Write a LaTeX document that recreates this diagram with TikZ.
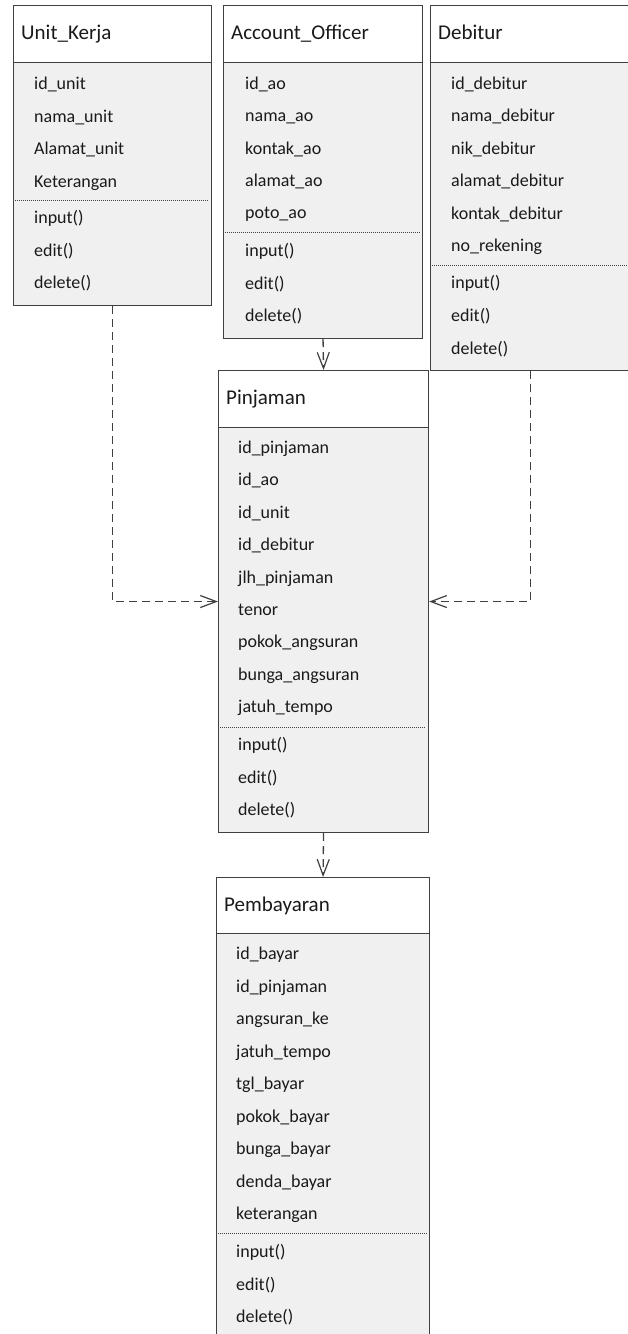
\documentclass[tikz,border=0pt]{standalone}
\usepackage{fontspec}
\setmainfont{Carlito}
\usepackage{xcolor}
\usetikzlibrary{arrows.meta,positioning}

\begin{document}
\begin{tikzpicture}[x=1pt,y=-1pt,
  kelas/.style={draw=garis,fill=isi,line width=1.1pt,anchor=north west,inner sep=0pt},
  kepala/.style={kelas,fill=white,minimum height=57},
  judul/.style={anchor=west,inner sep=0pt,text=teks,text height=15pt,text depth=4pt,font=\fontsize{21}{24}\selectfont},
  atr/.style={anchor=west,inner sep=0pt,text=teks,text height=13pt,text depth=3pt,font=\fontsize{18}{20}\selectfont},
  pisah/.style={draw=garis,line width=0.7pt,dash pattern=on 1pt off 1pt},
  relasi/.style={draw=garis,line width=1.3pt,dash pattern=on 8pt off 5pt,
    -{Straight Barb[length=16pt,width=12pt,line width=1.2pt]}}]
\definecolor{garis}{HTML}{404040}
\definecolor{isi}{HTML}{F0F0F0}
\definecolor{teks}{HTML}{1A1A1A}
\useasboundingbox[fill=white] (0,0) rectangle (627,1334);

% Unit_Kerja
\node (unit) [kelas,minimum width=198,minimum height=300] at (13,5) {};
\node (unitH) [kepala,minimum width=198] at (13,5) {};
\node (unitT) [judul,right=8pt of unitH.west] {Unit\_Kerja};
\foreach \a [count=\i from 0] in {id\_unit,nama\_unit,Alamat\_unit,Keterangan}
  \node (unitA\i) [atr] at (34,84.5+32.5*\i) {\a};
\draw[pisah] (15,200) -- (209,200);
\foreach \m [count=\i from 0] in {input(),edit(),delete()}
  \node (unitM\i) [atr] at (34,218.5+32.5*\i) {\m};

% Account_Officer
\node (ao) [kelas,minimum width=199,minimum height=333] at (223,5) {};
\node (aoH) [kepala,minimum width=199] at (223,5) {};
\node (aoT) [judul,right=8pt of aoH.west] {Account\_Officer};
\foreach \a [count=\i from 0] in {id\_ao,nama\_ao,kontak\_ao,alamat\_ao,poto\_ao}
  \node (aoA\i) [atr] at (245,84.5+32.3*\i) {\a};
\draw[pisah] (225,232) -- (420,232);
\foreach \m [count=\i from 0] in {input(),edit(),delete()}
  \node (aoM\i) [atr] at (245,251.5+32.5*\i) {\m};

% Debitur
\node (debitur) [kelas,minimum width=200,minimum height=365] at (430,5) {};
\node (debiturH) [kepala,minimum width=200] at (430,5) {};
\node (debiturT) [judul,right=8pt of debiturH.west] {Debitur};
\foreach \a [count=\i from 0] in {id\_debitur,nama\_debitur,nik\_debitur,alamat\_debitur,kontak\_debitur,no\_rekening}
  \node (debiturA\i) [atr] at (451,84.5+32.4*\i) {\a};
\draw[pisah] (432,265) -- (627,265);
\foreach \m [count=\i from 0] in {input(),edit(),delete()}
  \node (debiturM\i) [atr] at (451,283.5+32.8*\i) {\m};

% Pinjaman
\node (pinjaman) [kelas,minimum width=210,minimum height=462] at (218,370) {};
\node (pinjamanH) [kepala,minimum width=210] at (218,370) {};
\node (pinjamanT) [judul,right=8pt of pinjamanH.west] {Pinjaman};
\foreach \a [count=\i from 0] in {id\_pinjaman,id\_ao,id\_unit,id\_debitur,jlh\_pinjaman,tenor,pokok\_angsuran,bunga\_angsuran,jatuh\_tempo}
  \node (pinjamanA\i) [atr] at (238,448.5+32.4*\i) {\a};
\draw[pisah] (220,727) -- (426,727);
\foreach \m [count=\i from 0] in {input(),edit(),delete()}
  \node (pinjamanM\i) [atr] at (238,745.5+32.5*\i) {\m};

% Pembayaran
\node (bayar) [kelas,minimum width=213,minimum height=470] at (216,877) {};
\node (bayarH) [kepala,minimum width=213,minimum height=56] at (216,877) {};
\node (bayarT) [judul,right=8pt of bayarH.west] {Pembayaran};
\foreach \a [count=\i from 0] in {id\_bayar,id\_pinjaman,angsuran\_ke,jatuh\_tempo,tgl\_bayar,pokok\_bayar,bunga\_bayar,denda\_bayar,keterangan}
  \node (bayarA\i) [atr] at (236,954.5+32.5*\i) {\a};
\draw[pisah] (218,1233) -- (427,1233);
\foreach \m [count=\i from 0] in {input(),edit(),delete()}
  \node (bayarM\i) [atr] at (236,1252.5+32.5*\i) {\m};

% relasi
\draw[relasi] (unit.south) |- (pinjaman.west);
\draw[relasi] (debitur.south) |- (pinjaman.east);
\draw[relasi] (ao.south) -- (pinjaman.north);
\draw[relasi] (pinjaman.south) -- (bayar.north);
\end{tikzpicture}
\end{document}
